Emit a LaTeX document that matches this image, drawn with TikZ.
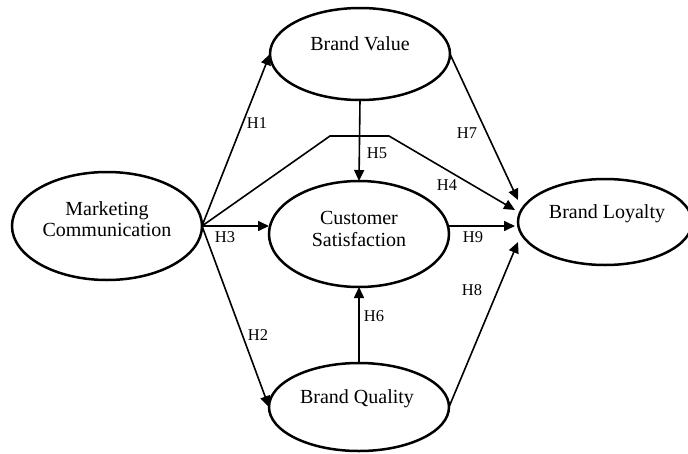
\documentclass[tikz,border=0pt]{standalone}
\usepackage{fontspec}
\setmainfont{Liberation Serif}
\usetikzlibrary{arrows.meta,shapes.geometric,calc}
\begin{document}
\begin{tikzpicture}[x=1pt,y=-1pt,
  construct/.style={ellipse,draw,line width=2.5pt,inner sep=0pt,outer sep=0pt},
  ctext/.style={font=\fontsize{20}{21.5}\selectfont,align=center,inner sep=0pt},
  hyp/.style={font=\fontsize{16.5}{18}\selectfont,inner sep=0pt},
  link/.style={line width=1.6pt,-{Triangle[length=11pt,width=10pt]}}]
\useasboundingbox (0,0) rectangle (688,453);
\clip (0,0) rectangle (688,453);

% constructs
\node[construct,minimum width=190pt,minimum height=108pt] (mc) at (107,226) {};
\node[construct,minimum width=180pt,minimum height=92pt]  (bv) at (360,54) {};
\node[construct,minimum width=180pt,minimum height=106pt] (cs) at (359,234) {};
\node[construct,minimum width=180pt,minimum height=88pt]  (bq) at (359,407) {};
\node[construct,minimum width=174pt,minimum height=86pt]  (bl) at (605,222) {};

% construct names
\node[ctext] (mc-t) at (107,219) {Marketing\\Communication};
\node[ctext] (bv-t) at (360,44) {Brand Value};
\node[ctext] (cs-t) at (359,229) {Customer\\Satisfaction};
\node[ctext] (bq-t) at (357,399) {Brand Quality};
\node[ctext] (bl-t) at (607,214) {Brand Loyalty};

% arrow ends at Brand Loyalty
\coordinate (h7tip) at ($(bl.west)+(0,-22)$);
\coordinate (h4tip) at ($(bl.west)+(-3,-12)$);
\coordinate (h9tip) at ($(bl.west)+(-3,4)$);
\coordinate (h8tip) at ($(bl.west)+(0,20)$);
% bends of the H4 path
\coordinate (k1) at (330,136);
\coordinate (k2) at (389,136);

% paths
\draw[link] (mc.east) -- (bv.west);
\draw[link] (mc.east) -- (bq.west);
\draw[link] (mc.east) -- (mc.east -| cs.west);
\draw[link] (mc.east) -- (k1) -- (k2) -- (h4tip);
\draw[link] (bv.south) -- (cs.north);
\draw[link] (bq.north) -- (cs.south);
\draw[link] (bv.east) -- (h7tip);
\draw[link] (bq.east) -- (h8tip);
\draw[link] (cs.east |- mc.east) -- (h9tip);

% hypothesis labels
\node[hyp] (h1) at (257,123) {H1};
\node[hyp] (h2) at (258,335) {H2};
\node[hyp] (h3) at (225,237) {H3};
\node[hyp] (h4) at (447,185) {H4};
\node[hyp] (h5) at (377,153) {H5};
\node[hyp] (h6) at (374,316) {H6};
\node[hyp] (h7) at (467,133) {H7};
\node[hyp] (h8) at (472,290) {H8};
\node[hyp] (h9) at (473,237) {H9};
\end{tikzpicture}
\end{document}
